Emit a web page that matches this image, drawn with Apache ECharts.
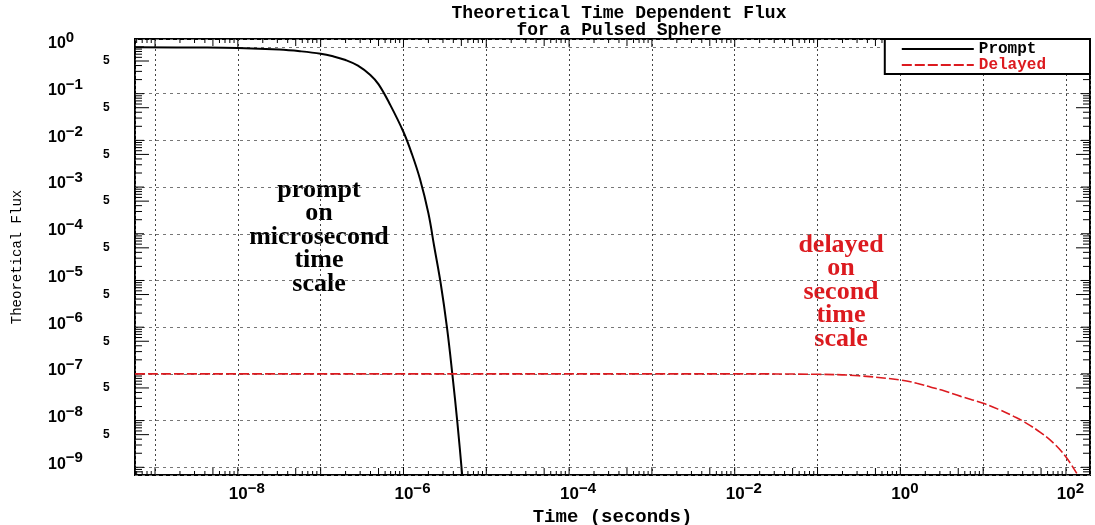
<!DOCTYPE html>
<html>
<head>
<meta charset="utf-8">
<title>Theoretical Time Dependent Flux</title>
<script src="https://cdn.jsdelivr.net/npm/echarts@6/dist/echarts.min.js"></script>
<style>
  html, body { margin: 0; padding: 0; background: #fff; }
  #chart { width: 1095px; height: 525px; }
</style>
</head>
<body>
<div id="chart"></div>
<script>
var X_MIN = 5.73e-10, X_MAX = 195;
var Y_MIN = 6.84e-10, Y_MAX = 1.48;

// prompt flux (microsecond scale)
var promptTime = [5.75e-10, 3.16e-9, 1e-8, 3.16e-8, 5.62e-8, 1e-7, 1.41e-7, 2.0e-7, 2.82e-7, 3.98e-7,
  5.01e-7, 6.92e-7, 1e-6, 1.26e-6, 1.58e-6, 2.0e-6, 2.34e-6, 2.82e-6, 3.36e-6, 3.9e-6, 4.48e-6, 5.08e-6, 5.37e-6];
var promptFlux = [0.98, 0.97, 0.95, 0.88, 0.81, 0.716, 0.63, 0.525, 0.398, 0.251,
  0.158, 0.0575, 0.0151, 0.0052, 0.0015, 2.75e-4, 5.6e-5, 8.5e-6, 9.5e-7, 9.5e-8, 8.9e-9, 7.9e-10, 2.5e-10];

// delayed flux (second scale)
var delayedTime = [5.75e-10, 1e-6, 1e-3, 1e-2, 0.1, 0.316, 1, 1.58, 2.34, 3.16, 5.37, 10,
  15.8, 23.4, 31.6, 49, 70.8, 100, 135];
var delayedFlux = [1e-7, 1e-7, 1e-7, 1e-7, 9.8e-8, 9.1e-8, 7.4e-8, 6.3e-8, 5.2e-8, 4.5e-8, 3.3e-8, 2.35e-8,
  1.7e-8, 1.23e-8, 9.3e-9, 5.6e-9, 3.3e-9, 1.66e-9, 7.4e-10];

// decade exponents that carry a label
var xLabelExps = [-8, -6, -4, -2, 0, 2];
var yLabelExps = [0, -1, -2, -3, -4, -5, -6, -7, -8, -9];
var yFiveExps = [-1, -2, -3, -4, -5, -6, -7, -8, -9]; // "5" marks at 5 x 10^n

var RED = '#dc1a1f';
var SANS = 'Liberation Sans';
var MONO = 'Liberation Mono';

function pair(xs, ys) {
  return xs.map(function (x, i) { return [x, ys[i]]; });
}

function isInt(v) { return Math.abs(v - Math.round(v)) < 1e-6; }

function expText(e) {
  return e < 0 ? '\u2212' + (-e) : String(e);
}

// minor tick positions 1..9 x 10^d inside the axis range
var xTicks = [], yTicks = [];
for (var d = -10; d <= 2; d++) {
  for (var k = 1; k <= 9; k++) {
    var v = k * Math.pow(10, d);
    if (v > X_MIN && v < X_MAX) xTicks.push([v, Y_MIN]);
    if (v > Y_MIN && v < Y_MAX) yTicks.push([X_MIN, v]);
  }
}

function mantissa(v) {
  return Math.round(v / Math.pow(10, Math.floor(Math.log10(v) + 1e-9)));
}

var tickStyle = { stroke: '#000', lineWidth: 1 };
var baseX = { fontFamily: SANS, fontWeight: 'bold', fontSize: 17, lineHeight: 27, color: '#000' };

var chart = echarts.init(document.getElementById('chart'));

var option = {
  backgroundColor: '#fff',
  animation: false,
  title: {
    text: 'Theoretical Time Dependent Flux\nfor a Pulsed Sphere',
    left: 614,
    top: 0,
    textAlign: 'center',
    textStyle: { fontFamily: MONO, fontWeight: 'bold', fontSize: 18, lineHeight: 17, color: '#000' }
  },
  legend: {
    orient: 'vertical',
    right: 5,
    top: 39,
    backgroundColor: '#fff',
    borderColor: '#000',
    borderWidth: 2,
    borderRadius: 0,
    padding: [2, 44, 1, 16],
    itemGap: 0,
    itemWidth: 72,
    itemHeight: 12,
    selectedMode: false,
    itemStyle: { color: 'rgba(0,0,0,0)', borderWidth: 0, opacity: 0 },
    textStyle: { fontFamily: MONO, fontWeight: 'bold', fontSize: 16 },
    data: [
      { name: 'Prompt', textStyle: { color: '#000' } },
      { name: 'Delayed', textStyle: { color: RED } }
    ]
  },
  grid: {
    left: 135, right: 5, top: 39, bottom: 50,
    show: true, borderColor: '#000', borderWidth: 2,
    containLabel: false, outerBoundsMode: 'none'
  },
  xAxis: [
    { // data axis
      type: 'log', logBase: 10, min: X_MIN, max: X_MAX, position: 'bottom', show: false
    },
    { // decade grid and labels
      type: 'value', position: 'bottom',
      min: Math.log10(X_MIN), max: Math.log10(X_MAX), splitNumber: 12,
      axisLine: { show: false }, axisTick: { show: false },
      splitLine: { show: true, lineStyle: { color: '#444', type: [2, 3], width: 1 } },
      axisLabel: {
        margin: 6,
        formatter: function (v) {
          if (!isInt(v) || xLabelExps.indexOf(Math.round(v)) < 0) return '';
          var e = Math.round(v);
          // pad "10" on the left by the exponent width so "10" sits on the tick
          return (e < 0 ? '{bn|10}' : '{bp|10}') + '{e|' + expText(e) + '}';
        },
        rich: {
          bn: Object.assign({ padding: [0, 0, 0, 18] }, baseX),
          bp: Object.assign({ padding: [0, 0, 0, 9] }, baseX),
          e: { fontFamily: SANS, fontWeight: 'bold', fontSize: 15, lineHeight: 14, verticalAlign: 'top', color: '#000' }
        }
      },
      name: 'Time (seconds)',
      nameLocation: 'middle',
      nameGap: 31,
      nameTextStyle: { fontFamily: MONO, fontWeight: 'bold', fontSize: 19, color: '#000', verticalAlign: 'top' }
    }
  ],
  yAxis: [
    { // data axis
      type: 'log', logBase: 10, min: Y_MIN, max: Y_MAX, position: 'left', show: false
    },
    { // decade grid and labels
      type: 'value', position: 'left',
      min: Math.log10(Y_MIN), max: Math.log10(Y_MAX), splitNumber: 10,
      axisLine: { show: false }, axisTick: { show: false },
      splitLine: { show: true, lineStyle: { color: '#777', type: [3, 4], width: 1 } },
      axisLabel: {
        margin: 87,
        align: 'left',
        padding: [0, 0, 6, 0],
        formatter: function (v) {
          if (!isInt(v) || yLabelExps.indexOf(Math.round(v)) < 0) return '';
          return '{b|10}{e|' + expText(Math.round(v)) + '}';
        },
        rich: {
          b: { fontFamily: SANS, fontWeight: 'bold', fontSize: 16, lineHeight: 27, color: '#000' },
          e: { fontFamily: SANS, fontWeight: 'bold', fontSize: 15, lineHeight: 14, verticalAlign: 'top', color: '#000' }
        }
      },
      name: 'Theoretical Flux',
      nameLocation: 'middle',
      nameGap: 111,
      nameRotate: 90,
      nameTextStyle: { fontFamily: MONO, fontSize: 14, color: '#000' }
    },
    { // "5" marks, axis shifted by log10(5)
      type: 'value', position: 'left',
      min: Math.log10(Y_MIN) - Math.log10(5), max: Math.log10(Y_MAX) - Math.log10(5), splitNumber: 9,
      axisLine: { show: false }, axisTick: { show: false }, splitLine: { show: false },
      axisLabel: {
        margin: 32,
        align: 'left',
        padding: [0, 0, 6, 0],
        fontFamily: SANS, fontWeight: 'bold', fontSize: 12, color: '#000',
        formatter: function (v) {
          if (!isInt(v) || yFiveExps.indexOf(Math.round(v)) < 0) return '';
          return '5';
        }
      }
    }
  ],
  graphic: [
    {
      type: 'text', x: 319, y: 237, silent: true,
      style: {
        text: 'prompt\non\nmicrosecond\ntime\nscale',
        fill: '#000', font: 'bold 26px "Liberation Serif"', lineHeight: 23.5,
        align: 'center', verticalAlign: 'middle'
      }
    },
    {
      type: 'text', x: 841, y: 292, silent: true,
      style: {
        text: 'delayed\non\nsecond\ntime\nscale',
        fill: RED, font: 'bold 26px "Liberation Serif"', lineHeight: 23.5,
        align: 'center', verticalAlign: 'middle'
      }
    }
  ],
  series: [
    {
      name: 'Prompt',
      type: 'line',
      xAxisIndex: 0, yAxisIndex: 0,
      data: pair(promptTime, promptFlux),
      symbol: 'none', showSymbol: false,
      smooth: 0.4,
      lineStyle: { color: '#000', width: 2 },
      itemStyle: { color: '#000' },
      z: 5
    },
    {
      name: 'Delayed',
      type: 'line',
      xAxisIndex: 0, yAxisIndex: 0,
      data: pair(delayedTime, delayedFlux),
      symbol: 'none', showSymbol: false,
      smooth: 0.4,
      lineStyle: { color: RED, width: 1.6, type: [10, 3] },
      itemStyle: { color: RED },
      z: 5
    },
    { // minor ticks on bottom and top
      type: 'custom',
      xAxisIndex: 0, yAxisIndex: 0,
      silent: true, clip: false,
      data: xTicks,
      renderItem: function (params, api) {
        var t = api.value(0);
        var k = mantissa(t);
        var len = k === 1 ? 8 : (k === 5 ? 7 : 4);
        var b = api.coord([t, Y_MIN]);
        var top = api.coord([t, Y_MAX]);
        return {
          type: 'group',
          children: [
            { type: 'line', shape: { x1: b[0], y1: b[1], x2: b[0], y2: b[1] - len }, style: tickStyle },
            { type: 'line', shape: { x1: top[0], y1: top[1], x2: top[0], y2: top[1] + len }, style: tickStyle }
          ]
        };
      }
    },
    { // minor ticks on left and right
      type: 'custom',
      xAxisIndex: 0, yAxisIndex: 0,
      silent: true, clip: false,
      data: yTicks,
      renderItem: function (params, api) {
        var f = api.value(1);
        var k = mantissa(f);
        var len = k === 1 ? 9 : (k === 5 ? 14 : 7);
        var l = api.coord([X_MIN, f]);
        var r = api.coord([X_MAX, f]);
        return {
          type: 'group',
          children: [
            { type: 'line', shape: { x1: l[0], y1: l[1], x2: l[0] + len, y2: l[1] }, style: tickStyle },
            { type: 'line', shape: { x1: r[0], y1: r[1], x2: r[0] - len, y2: r[1] }, style: tickStyle }
          ]
        };
      }
    }
  ]
};

chart.setOption(option);
</script>
</body>
</html>
